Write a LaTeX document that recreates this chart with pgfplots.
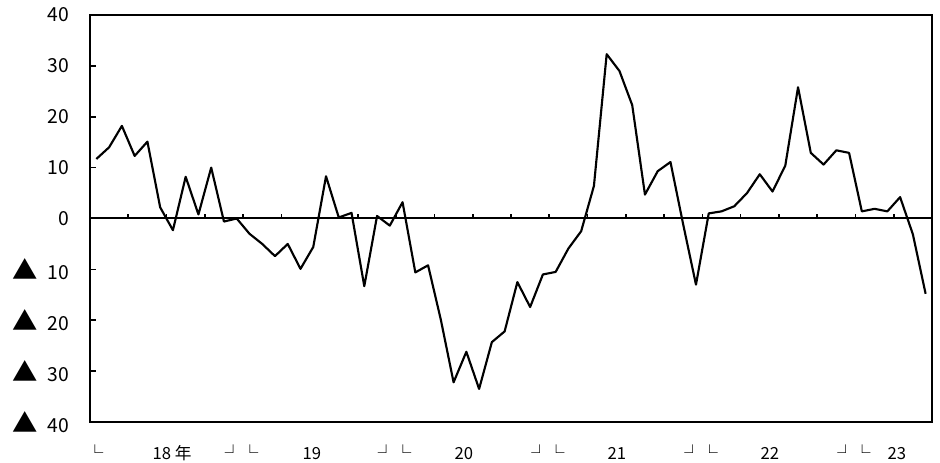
\documentclass[border=0pt]{standalone}
\usepackage{fontspec}
\setmainfont{Noto Sans CJK JP}
\usepackage{pgfplots}
\usepackage{pgfplotstable}
\pgfplotsset{compat=1.18}
\newcommand\tri{{\fontsize{19}{19}\selectfont ▲}\hspace{7.5pt}}
\pgfplotstableread{
x y
0.5 11.7
1.5 14.0
2.5 18.2
3.5 12.3
4.5 15.1
5.5 2.2
6.5 -2.3
7.5 8.2
8.5 0.8
9.5 10.0
10.5 -0.6
11.5 0.0
12.5 -3.0
13.5 -5.0
14.5 -7.4
15.5 -5.0
16.5 -9.9
17.5 -5.6
18.5 8.3
19.5 0.2
20.5 1.1
21.5 -13.3
22.5 0.5
23.5 -1.4
24.5 3.2
25.5 -10.6
26.5 -9.2
27.5 -19.9
28.5 -32.2
29.5 -26.2
30.5 -33.5
31.5 -24.3
32.5 -22.2
33.5 -12.5
34.5 -17.4
35.5 -11.0
36.5 -10.5
37.5 -5.9
38.5 -2.5
39.5 6.4
40.5 32.3
41.5 29.0
42.5 22.3
43.5 4.7
44.5 9.3
45.5 11.1
46.5 -1.2
47.5 -13.0
48.5 1.0
49.5 1.4
50.5 2.4
51.5 5.0
52.5 8.7
53.5 5.3
54.5 10.4
55.5 25.8
56.5 12.9
57.5 10.6
58.5 13.4
59.5 12.9
60.5 1.4
61.5 1.9
62.5 1.4
63.5 4.2
64.5 -3.1
65.5 -14.8
}\datatable
\begin{document}
\begin{tikzpicture}
\useasboundingbox (0,0) rectangle (705pt,347.25pt);
\begin{axis}[
  at={(67.5pt,30.75pt)}, anchor=south west,
  scale only axis, width=631.5pt, height=305.25pt,
  xmin=0, xmax=66, ymin=-40, ymax=40,
  xtick=\empty,
  ytick={-40,-30,...,40},
  yticklabels={\tri 40,\tri 30,\tri 20,\tri 10,0,10,20,30,40},
  ytick align=inside, ytick pos=left,
  major tick length=4.5pt,
  tick style={line width=1.2pt, black},
  axis line style={line width=1.5pt},
  /pgf/number format/assume math mode=true,
  yticklabel style={font=\fontsize{14.5}{14.5}\selectfont, xshift=-12pt},
  clip=false,
]
\addplot[black, line width=1.6pt, line join=round, mark=none] table[x=x,y=y]{\datatable};
\draw[line width=1.5pt] (axis cs:0,0) -- (axis cs:66,0);
\pgfplotsinvokeforeach{3,6,...,63}{\draw[line width=1.2pt] (axis cs:#1,0) -- ([yshift=3.5pt]axis cs:#1,0);}
\begin{scope}[every node/.style={anchor=base, font=\fontsize{12.5}{12.5}\selectfont, inner sep=0pt, yshift=-28.5pt}]
\node at (axis cs:6.43,-40) {18 年};
\node at (axis cs:17.4,-40) {19};
\node at (axis cs:29.31,-40) {20};
\node at (axis cs:41.3,-40) {21};
\node at (axis cs:53.3,-40) {22};
\node at (axis cs:63.25,-40) {23};
\node at (axis cs:0.39,-40) {└};
\node at (axis cs:11.88,-40) {┘└};
\node at (axis cs:23.87,-40) {┘└};
\node at (axis cs:35.9,-40) {┘└};
\node at (axis cs:47.9,-40) {┘└};
\node at (axis cs:59.88,-40) {┘└};
\end{scope}
\end{axis}
\end{tikzpicture}
\end{document}
